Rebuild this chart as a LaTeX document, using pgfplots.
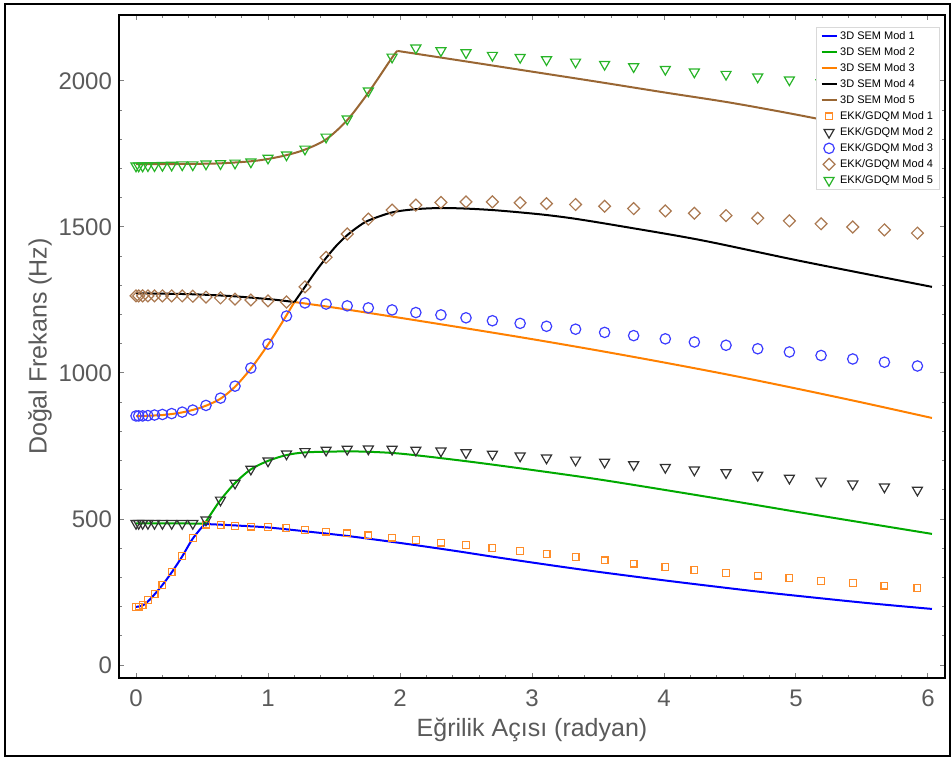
\documentclass[border=0pt]{standalone}
\usepackage{fontspec}
\setmainfont{Liberation Sans}
\usepackage{pgfplots}
\pgfplotsset{compat=1.18}

\definecolor{semblue}{RGB}{0,0,255}
\definecolor{semgreen}{RGB}{0,170,0}
\definecolor{semorange}{RGB}{255,128,0}
\definecolor{sembrown}{RGB}{153,102,51}
\definecolor{mkorange}{RGB}{255,140,40}
\definecolor{mkgray}{RGB}{50,50,50}
\definecolor{mkblue}{RGB}{60,60,255}
\definecolor{mkbrown}{RGB}{170,120,80}
\definecolor{mkgreen}{RGB}{40,180,40}
\definecolor{labgray}{RGB}{90,90,90}

\pgfplotsset{
  lineleg/.style={legend image code/.code={\draw[mark repeat=2,mark phase=2,##1] plot coordinates {(0pt,0pt)(3.75pt,0pt)(7.5pt,0pt)};}},
  markleg/.style={only marks, legend image code/.code={\draw[mark repeat=2,mark phase=2,##1] plot coordinates {(0pt,0pt)(3.75pt,0pt)(7.5pt,0pt)};}},
  semline/.style={line width=1pt, smooth, tension=0.5, lineleg},
}

\begin{document}
\begin{tikzpicture}
\begin{axis}[
    name=ax,
    width=413pt, height=331.5pt, scale only axis,
    xmin=-0.129, xmax=6.129, ymin=-44.5, ymax=2226,
    xtick={0,1,2,3,4,5,6}, ytick={0,500,1000,1500,2000},
    minor x tick num=4, minor y tick num=4,
    tick align=inside, major tick length=2.5pt, minor tick length=1.5pt,
    tick style={gray, line width=0.5pt},
    axis line style={line width=0.6pt},
    ticklabel style={font=\fontsize{12}{14}\selectfont, text=labgray},
    xticklabel style={yshift=-2.5pt},
    /pgf/number format/assume math mode=true,
    /pgf/number format/1000 sep={},
    xlabel={Eğrilik Açısı (radyan)},
    ylabel={Doğal Frekans (Hz)},
    label style={font=\fontsize{12.5}{15}\selectfont, text=labgray},
    xlabel style={at={(axis description cs:0.5,-0.0784)}, anchor=center},
    ylabel style={at={(axis description cs:-0.0956,0.5)}, anchor=center},
    legend cell align=left,
    legend style={at={(0.994,0.982)}, anchor=north east, draw=gray!30, fill=white,
        font=\fontsize{5.5}{6.5}\selectfont, inner xsep=2pt, inner ysep=0.5pt,
        nodes={inner sep=1.3pt, text height=4.2pt, text depth=1.2pt}},
]

% 3D SEM lines (two pieces each, split at the veering point)
\addplot[semblue, semline] coordinates {(0,199) (0.05,204) (0.10,222) (0.15,247) (0.20,274) (0.27,317) (0.35,372) (0.43,433) (0.52,483)};
\addlegendentry{3D SEM Mod 1}
\addplot[semgreen, semline] coordinates {(0,485) (0.3,485) (0.52,484)};
\addlegendentry{3D SEM Mod 2}
\addplot[semorange, semline] coordinates {(0,852) (0.2,856) (0.35,865) (0.45,876) (0.53,888) (0.64,912) (0.75,953) (0.87,1015) (1.0,1097) (1.10,1168) (1.20,1243)};
\addlegendentry{3D SEM Mod 3}
\addplot[black, semline] coordinates {(0,1273) (0.4,1270) (0.7,1264) (0.9,1257) (1.05,1251) (1.20,1243)};
\addlegendentry{3D SEM Mod 4}
\addplot[sembrown, semline] coordinates {(0,1715) (0.4,1716) (0.64,1718) (0.87,1725) (1.0,1733) (1.14,1746) (1.28,1765) (1.44,1800) (1.60,1866) (1.76,1960) (1.94,2080) (1.98,2103)};
\addlegendentry{3D SEM Mod 5}

\addplot[semblue, semline, forget plot] coordinates {(0.52,483) (0.75,478) (1.0,471) (1.3,457) (1.6,442) (2.0,418) (2.4,392) (2.76,367) (3.2,338) (3.52,318) (4.0,290) (4.4,268) (4.78,248) (5.5,214) (6.03,192)};
\addplot[semgreen, semline, forget plot] coordinates {(0.52,484) (0.56,512) (0.64,565) (0.75,623) (0.87,670) (1.0,699) (1.14,719) (1.28,728) (1.5,731) (1.7,731) (2.0,724) (2.5,698) (3.0,668) (3.5,636) (4.0,600) (4.5,563) (5.0,525) (5.5,488) (6.03,449)};
\addplot[semorange, semline, forget plot] coordinates {(1.20,1243) (1.5,1224) (2.0,1189) (2.5,1153) (3.0,1116) (3.5,1077) (4.0,1036) (4.5,993) (5.0,947) (5.5,899) (6.03,846)};
\addplot[black, semline, forget plot] coordinates {(1.20,1243) (1.28,1295) (1.36,1347) (1.44,1394) (1.52,1437) (1.60,1472) (1.68,1500) (1.76,1522) (1.94,1550) (2.12,1561) (2.31,1565) (2.50,1563) (2.70,1558) (2.91,1550) (3.11,1541) (3.33,1528) (3.67,1503) (4.28,1455) (5.04,1383) (6.03,1295)};
\addplot[sembrown, semline, forget plot] coordinates {(1.98,2103) (2.5,2067) (3.0,2032) (3.5,1997) (4.0,1961) (4.5,1926) (5.0,1885) (5.5,1840) (6.03,1790)};

% EKK/GDQM results
\addplot[markleg, mkorange, mark=square, mark size=1.7pt, mark options={line width=0.6pt}] coordinates {
(0,199) (0.02,200) (0.05,205) (0.09,222) (0.14,243) (0.20,274) (0.27,318) (0.35,373) (0.43,435) (0.53,481)
(0.64,479) (0.75,476) (0.87,474) (1.00,472) (1.14,469) (1.28,462) (1.44,457) (1.60,451) (1.76,444) (1.94,436)
(2.12,428) (2.31,419) (2.50,410) (2.70,400) (2.91,390) (3.11,380) (3.33,369) (3.55,358) (3.77,347) (4.01,336)
(4.23,326) (4.47,316) (4.71,306) (4.95,297) (5.19,288) (5.43,280) (5.67,272) (5.92,264)};
\addlegendentry{EKK/GDQM Mod 1}
\addplot[markleg, mkgray, mark=triangle, mark size=2.9pt, mark options={rotate=180, line width=0.6pt}] coordinates {
(0,485) (0.02,485) (0.05,485) (0.09,485) (0.14,485) (0.20,485) (0.27,485) (0.35,485) (0.43,485) (0.53,497)
(0.64,565) (0.75,623) (0.87,671) (1.00,699) (1.14,723) (1.28,731) (1.44,736) (1.60,739) (1.76,740) (1.94,739)
(2.12,736) (2.31,733) (2.50,727) (2.70,722) (2.91,716) (3.11,709) (3.33,702) (3.55,695) (3.77,686) (4.01,677)
(4.23,668) (4.47,659) (4.71,650) (4.95,640) (5.19,630) (5.43,620) (5.67,610) (5.92,599)};
\addlegendentry{EKK/GDQM Mod 2}
\addplot[markleg, mkblue, mark=o, mark size=2.6pt, mark options={line width=0.6pt}] coordinates {
(0,853) (0.02,853) (0.05,853) (0.09,854) (0.14,856) (0.20,858) (0.27,861) (0.35,866) (0.43,873) (0.53,889)
(0.64,914) (0.75,955) (0.87,1017) (1.00,1099) (1.14,1195) (1.28,1240) (1.44,1236) (1.60,1230) (1.76,1223) (1.94,1216)
(2.12,1207) (2.31,1199) (2.50,1189) (2.70,1179) (2.91,1170) (3.11,1160) (3.33,1150) (3.55,1139) (3.77,1128) (4.01,1117)
(4.23,1106) (4.47,1095) (4.71,1083) (4.95,1072) (5.19,1060) (5.43,1048) (5.67,1037) (5.92,1024)};
\addlegendentry{EKK/GDQM Mod 3}
\addplot[markleg, mkbrown, mark=square, mark size=2.1pt, mark options={rotate=45, line width=0.6pt}] coordinates {
(0,1264) (0.02,1264) (0.05,1264) (0.09,1264) (0.14,1264) (0.20,1264) (0.27,1264) (0.35,1264) (0.43,1263) (0.53,1260)
(0.64,1257) (0.75,1253) (0.87,1250) (1.00,1247) (1.14,1243) (1.28,1295) (1.44,1396) (1.60,1476) (1.76,1527) (1.94,1558)
(2.12,1575) (2.31,1584) (2.50,1586) (2.70,1586) (2.91,1583) (3.11,1580) (3.33,1577) (3.55,1571) (3.77,1563) (4.01,1555)
(4.23,1547) (4.47,1539) (4.71,1530) (4.95,1521) (5.19,1511) (5.43,1500) (5.67,1490) (5.92,1479)};
\addlegendentry{EKK/GDQM Mod 4}
\addplot[markleg, mkgreen, mark=triangle, mark size=2.9pt, mark options={rotate=180, line width=0.6pt}] coordinates {
(0,1709) (0.02,1709) (0.05,1709) (0.09,1710) (0.14,1710) (0.20,1711) (0.27,1712) (0.35,1713) (0.43,1713) (0.53,1716)
(0.64,1717) (0.75,1719) (0.87,1723) (1.00,1736) (1.14,1747) (1.28,1767) (1.44,1808) (1.60,1870) (1.76,1966) (1.94,2082)
(2.12,2113) (2.31,2104) (2.50,2097) (2.70,2088) (2.91,2081) (3.11,2073) (3.33,2065) (3.55,2057) (3.77,2049) (4.01,2040)
(4.23,2031) (4.47,2023) (4.71,2014) (4.95,2004) (5.19,1994) (5.43,1984) (5.67,1974) (5.92,1963)};
\addlegendentry{EKK/GDQM Mod 5}
\end{axis}
% heavier left and bottom axis lines
\draw[line width=1.1pt] (ax.north west) -- (ax.south west) -- (ax.south east);
% figure frame
\draw[line width=0.8pt] ([xshift=-57pt,yshift=-39pt]ax.south west) rectangle ([xshift=2.5pt,yshift=5.5pt]ax.north east);
\pgfresetboundingbox
\path[use as bounding box] ([xshift=-59.5pt,yshift=-41pt]ax.south west) rectangle ([xshift=3.5pt,yshift=7.5pt]ax.north east);
\end{tikzpicture}
\end{document}
